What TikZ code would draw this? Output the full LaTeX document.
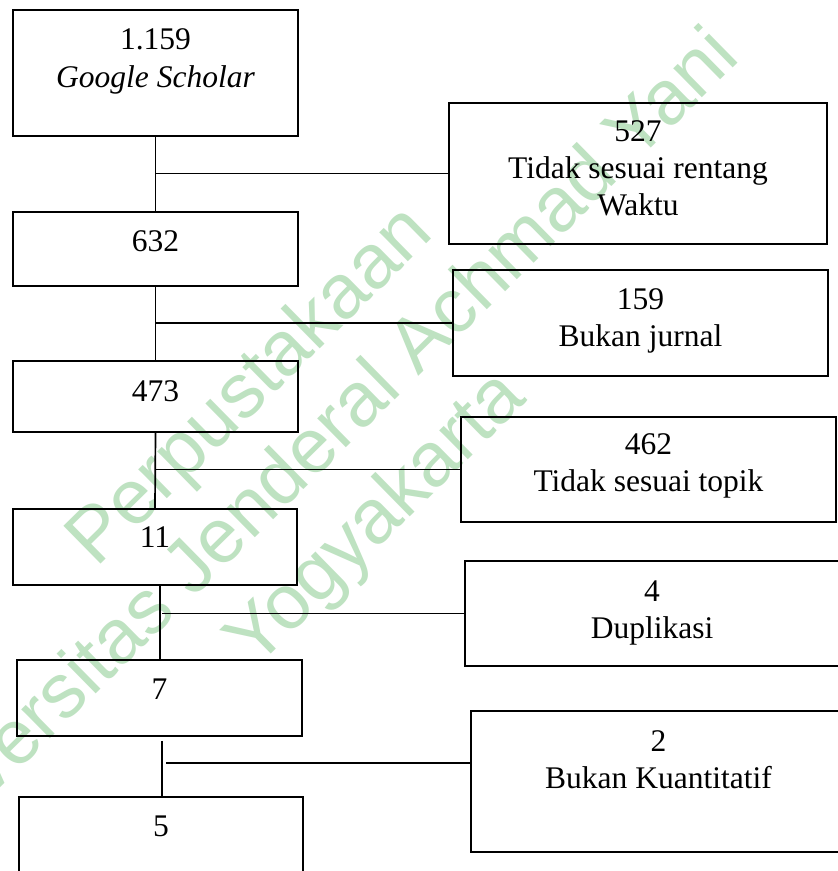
\documentclass[tikz,border=0pt]{standalone}
\usepackage{fontspec}
\setmainfont{Liberation Serif}
\newfontfamily\wmfont{Liberation Sans}
\usetikzlibrary{calc}
\definecolor{wmgreen}{RGB}{190,226,193}
\tikzset{
  box/.style={draw=black, line width=1.9pt, rectangle, inner sep=0pt},
  conn/.style={draw=black, line width=1.7pt},
  txt/.style={anchor=base, inner sep=0pt, font=\fontsize{31.5}{37}\selectfont},
  wm/.style={anchor=base, inner sep=0pt, rotate=44.5, text=wmgreen, font=\wmfont\fontsize{77}{90}\selectfont},
}
\newcommand{\stackt}[1]{\begin{tabular}[t]{@{}c@{}}#1\end{tabular}}
\begin{document}
\begin{tikzpicture}[x=1pt,y=-1pt]
\clip (0,0) rectangle (838,871);
\fill[white] (0,0) rectangle (838,871);
% watermark
\node[wm] (w1) at (266,402) {Perpustakaan};
\node[wm] (w2) at (324,470) {Universitas Jenderal Achmad Yani};
\node[wm] (w3) at (392,535) {Yogyakarta};
% left boxes
\node[box, minimum width=285pt, minimum height=126pt] (b1) at (155.5,73) {};
\node[box, minimum width=285pt, minimum height=74pt] (b2) at (155.5,249) {};
\node[box, minimum width=285pt, minimum height=71pt] (b3) at (155.5,396.5) {};
\node[box, minimum width=284pt, minimum height=76pt] (b4) at (155,547) {};
\node[box, minimum width=285pt, minimum height=76pt] (b5) at (159.5,698) {};
\node[box, minimum width=284pt, minimum height=120pt] (b6) at (161,857) {};
% right boxes
\node[box, minimum width=378pt, minimum height=141pt] (r1) at (638,173.5) {};
\node[box, minimum width=375pt, minimum height=106pt] (r2) at (640.5,323) {};
\node[box, minimum width=375pt, minimum height=105pt] (r3) at (648.5,469.5) {};
\node[box, minimum width=374pt, minimum height=105pt] (r4) at (652,613.5) {};
\node[box, minimum width=375pt, minimum height=141pt] (r5) at (658.5,781.5) {};
% texts
\node[txt] (t1) at ($(b1.north)+(0,40)$) {\stackt{1.159\\[1pt]\textit{Google Scholar}}};
\node[txt] (t2) at ($(b2.north)+(0,40)$) {632};
\node[txt] (t3) at ($(b3.north)+(0,41)$) {473};
\node[txt] (t4) at ($(b4.north)+(0,39)$) {11};
\node[txt] (t5) at ($(b5.north)+(0,40)$) {7};
\node[txt] (t6) at ($(b6.north)+(0,40)$) {5};
\node[txt] (s1) at ($(r1.north)+(0,39)$) {\stackt{527\\Tidak sesuai rentang\\Waktu}};
\node[txt] (s2) at ($(r2.north)+(0,40)$) {\stackt{159\\Bukan jurnal}};
\node[txt] (s3) at ($(r3.north)+(0,38)$) {\stackt{462\\Tidak sesuai topik}};
\node[txt] (s4) at ($(r4.north)+(0,41)$) {\stackt{4\\Duplikasi}};
\node[txt] (s5) at ($(r5.north)+(0,41)$) {\stackt{2\\Bukan Kuantitatif}};
% connectors
\draw[conn] (b1.south) -- (b2.north);
\draw[conn] (r1.west -| b1.south) -- (r1.west);
\draw[conn] (b2.south) -- (b3.north);
\draw[conn] (r2.west -| b2.south) -- (r2.west);
\draw[conn] (b3.south) -- (b4.north);
\draw[conn] (r3.west -| b3.south) -- (r3.west);
\coordinate (v4) at ($(b4.south -| b5.north)+(0.5,0)$);
\draw[conn] (v4) -- (v4 |- b5.north);
\coordinate (j4) at (162,613.5);
\draw[conn] (j4) -- (r4.west);
\coordinate (v5) at ($(b5.south -| b6.north)+(1,4)$);
\draw[conn] (v5) -- (v5 |- b6.north);
\coordinate (j5) at (166,763);
\draw[conn] (j5) -- (j5 -| r5.west);
\end{tikzpicture}
\end{document}
